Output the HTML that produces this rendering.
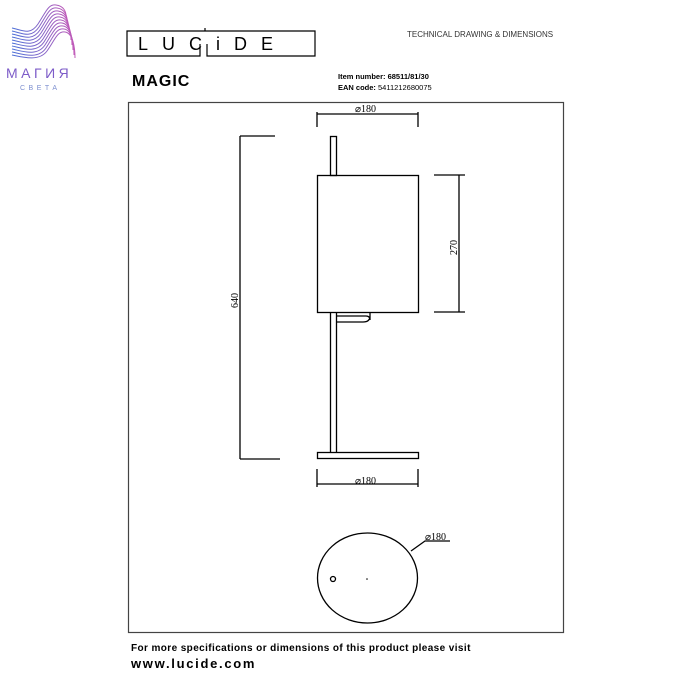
<!DOCTYPE html>
<html><head><style>
body{margin:0;background:#fff;width:700px;height:700px;overflow:hidden;position:relative;font-family:"Liberation Sans",sans-serif}
.t{position:absolute;white-space:nowrap;color:#000}
</style></head><body>
<svg width="700" height="700" style="position:absolute;left:0;top:0" font-family="Liberation Serif, serif">
<defs><linearGradient id="g" x1="0" x2="1"><stop offset="0" stop-color="#4a6fd8"/><stop offset="1" stop-color="#c05ab8"/></linearGradient></defs>
<g fill="none" stroke="url(#g)" stroke-width="1">
<path d="M12 28 C22 30,30 36,38 24 S48 4,56 5 S66 12,66 16"/>
<path d="M12 31 C22 33,31 39,39 27 S49 7,57 8 S67 16,67 20"/>
<path d="M12 34 C22 36,32 42,40 30 S50 10,58 11 S68 20,68 25"/>
<path d="M12 37 C22 39,33 45,41 33 S51 13,59 14 S69 24,69 30"/>
<path d="M12 40 C22 42,34 48,42 36 S52 16,60 17 S70 28,70 35"/>
<path d="M12 43 C22 45,35 51,43 39 S53 19,61 20 S71 32,71 40"/>
<path d="M12 46 C22 48,36 54,44 42 S54 22,62 23 S72 36,72 45"/>
<path d="M12 49 C22 51,37 57,45 45 S55 25,63 26 S73 40,73 50"/>
<path d="M12 52 C22 54,38 60,46 48 S56 28,64 29 S74 44,74 55"/>
<path d="M12 55 C22 57,39 62,47 51 S57 31,65 32 S75 48,75 58"/>
</g>
<text x="6" y="78" font-family="Liberation Sans" font-size="14" fill="#7d5cc8" letter-spacing="3.5">МАГИЯ</text>
<text x="20" y="90" font-family="Liberation Sans" font-size="7" fill="#7d8fd0" letter-spacing="3.5">СВЕТА</text>
<g stroke="#000" fill="none" stroke-width="1.2">
<path d="M205 31 H127 V56 H200 V44 M205 31 V28 M205 31 H315 V56 H207 V44"/>
</g>
<text x="138" y="50" font-family="Liberation Sans" font-size="18" letter-spacing="14" fill="#000">LUCiDE</text>
<rect x="128.5" y="102.5" width="435" height="530" fill="none" stroke="#444" stroke-width="1.2"/>
<g stroke="#000" fill="none" stroke-width="1.3">
<rect x="330.5" y="136.5" width="6" height="39"/>
<rect x="317.5" y="175.5" width="101" height="137"/>
<path d="M330.5 312 V452 M336.5 312 V452"/>
<path d="M336 316 H366 Q370 316 370 320 V313 M336 322 H363 Q370 322 370 316"/>
<rect x="317.5" y="452.5" width="101" height="6"/>
<path d="M317 112 V127 M418 112 V127 M317 114 H418"/>
<path d="M317 469 V487 M418 469 V487 M317 484 H418"/>
<path d="M240 136 V459 M240 136 H275 M240 459 H280"/>
<path d="M434 175 H465 M434 312 H465 M459 175 V312"/>
<ellipse cx="367.5" cy="578" rx="50" ry="45"/>
<circle cx="333" cy="579" r="2.5"/>
<path d="M411 551 L425 541 H450"/>
</g>
<circle cx="367" cy="579" r="0.8" fill="#000"/>
<g font-size="10" fill="#000">
<text x="355" y="112">⌀180</text>
<text x="355" y="484">⌀180</text>
<text x="425" y="540">⌀180</text>
<text transform="translate(238,308) rotate(-90)">640</text>
<text transform="translate(457,255) rotate(-90)">270</text>
</g>
</svg>
<div class="t" style="left:407px;top:30px;font-size:8px;color:#333">TECHNICAL DRAWING &amp; DIMENSIONS</div>
<div class="t" style="left:132px;top:73px;font-size:16px;font-weight:bold;letter-spacing:1px">MAGIC</div>
<div class="t" style="left:338px;top:72px;font-size:7.5px;font-weight:bold">Item number: 68511/81/30</div>
<div class="t" style="left:338px;top:83px;font-size:7.5px"><b>EAN code:</b> 5411212680075</div>
<div class="t" style="left:131px;top:643px;font-size:10px;font-weight:bold;letter-spacing:0.4px">For more specifications or dimensions of this product please visit</div>
<div class="t" style="left:131px;top:656px;font-size:13px;font-weight:bold;letter-spacing:1.7px">www.lucide.com</div>
</body></html>
